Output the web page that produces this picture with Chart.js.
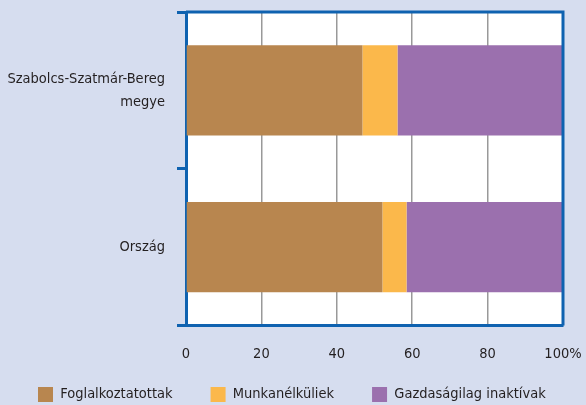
<!DOCTYPE html>
<html>
<head>
<meta charset="utf-8">
<script src="https://cdn.jsdelivr.net/npm/chart.js@4/dist/chart.umd.min.js"></script>
<style>
  html, body { margin: 0; padding: 0; background: #d6ddef; }
  #wrap { width: 586px; height: 405px; }
</style>
</head>
<body>
<div id="wrap"><canvas id="grafico"></canvas></div>
<script>
var kategoriak = [["Szabolcs-Szatmár-Bereg", "megye"], "Ország"];
var foglalkoztatottak = [46.8, 52.1];
var munkanelkuliek = [9.3, 6.4];
var inaktivak = [43.9, 41.5];
var xTickLabels = ["0", "20", "40", "60", "80", "100%"];

var kek = "#0f62b0";

// white plot area + blue frame on top and right
var keret = {
  id: "keret",
  beforeDraw: function (chart) {
    var a = chart.chartArea;
    chart.ctx.save();
    chart.ctx.fillStyle = "#ffffff";
    chart.ctx.fillRect(a.left, a.top, a.right - a.left, a.bottom - a.top);
    chart.ctx.restore();
  },
  afterDatasetsDraw: function (chart) {
    var a = chart.chartArea;
    var ctx = chart.ctx;
    ctx.save();
    ctx.strokeStyle = kek;
    ctx.lineWidth = 3;
    ctx.beginPath();
    ctx.moveTo(a.left, a.top);
    ctx.lineTo(a.right, a.top);
    ctx.lineTo(a.right, a.bottom);
    ctx.stroke();
    ctx.restore();
  },
};

document.addEventListener("DOMContentLoaded", function () {
  Chart.defaults.font.family = "'DejaVu Sans Condensed', sans-serif";
  Chart.defaults.font.size = 14.5;
  Chart.defaults.color = "#231f20";

  var ctx = document.getElementById("grafico").getContext("2d");
  var grafico = new Chart(ctx, {
    type: "bar",
    data: {
      labels: kategoriak,
      datasets: [
        {
          label: "Foglalkoztatottak",
          data: foglalkoztatottak,
          backgroundColor: "#b8864f",
        },
        {
          label: "Munkanélküliek",
          data: munkanelkuliek,
          backgroundColor: "#fbb84b",
        },
        {
          label: "Gazdaságilag inaktívak",
          data: inaktivak,
          backgroundColor: "#9b70ae",
        },
      ],
    },
    options: {
      indexAxis: "y",
      responsive: true,
      maintainAspectRatio: false,
      animation: false,
      datasets: {
        bar: { categoryPercentage: 0.575, barPercentage: 1.0 },
      },
      layout: { padding: { top: 12, right: 0, left: 0, bottom: 0 } },
      scales: {
        x: {
          stacked: true,
          min: 0,
          max: 100,
          afterFit: function (scale) {
            scale.height = 37.4;
            scale.paddingLeft = 0;
            scale.paddingRight = 23;
          },
          ticks: {
            stepSize: 20,
            padding: 20,
            callback: function (v, i) {
              return xTickLabels[i];
            },
          },
          grid: {
            color: "#999999",
            lineWidth: 1.5,
            drawTicks: false,
          },
          border: { color: kek, width: 3 },
        },
        y: {
          stacked: true,
          afterFit: function (scale) {
            scale.width = 186;
            scale.paddingTop = 0;
            scale.paddingBottom = 0;
          },
          ticks: { padding: 12, font: { lineHeight: 1.6 } },
          grid: {
            offset: true,
            drawOnChartArea: false,
            color: kek,
            lineWidth: 3,
            tickLength: 9,
          },
          border: { color: kek, width: 3 },
        },
      },
      plugins: {
        legend: {
          position: "bottom",
          align: "start",
          maxHeight: 42,
          title: {
            display: true,
            text: "",
            font: { size: 1 },
            padding: { top: 0, bottom: -15.2 },
          },
          labels: {
            boxWidth: 15,
            boxHeight: 15,
            padding: 38,
          },
        },
        tooltip: { enabled: false },
      },
    },
    plugins: [keret],
  });
});
</script>
</body>
</html>
